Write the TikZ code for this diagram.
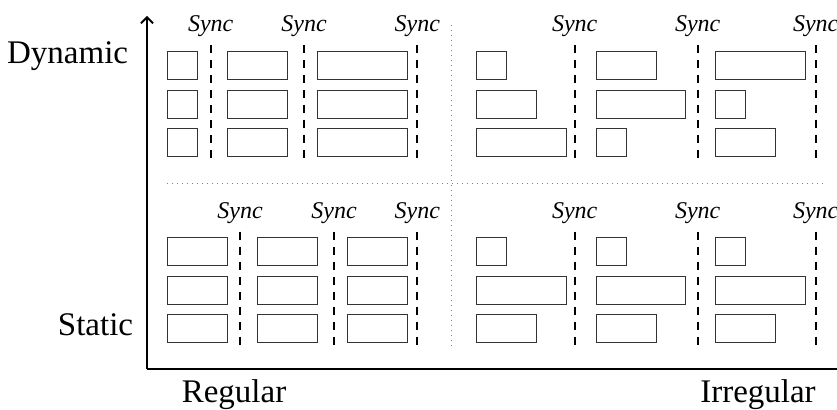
\documentclass[tikz,border=0pt]{standalone}
\usepackage{fontspec}
\setmainfont{Liberation Serif}
\usetikzlibrary{arrows.meta}

\begin{document}
\begin{tikzpicture}[x=0.5pt, y=-0.5pt]
        % ================= styles =================
        \tikzset{
            % task box (width given as argument)
            task/.style={draw=black!80, line width=0.5pt, inner sep=0pt, minimum height=14pt, minimum width=#1, anchor=north west},
            % sync barrier
            barrier/.style={line width=1.1pt, dash pattern=on 4pt off 3.5pt},
            synclabel/.style={font=\fontsize{12}{14}\selectfont\itshape, anchor=base, inner sep=0pt},
            axislabel/.style={font=\fontsize{16.5}{19}\selectfont, inner sep=0pt},
            quadline/.style={gray, line width=0.5pt, dash pattern=on 0.5pt off 2pt},
            axisline/.style={line width=0.9pt}
        }
        \useasboundingbox (0,0) rectangle (837,410);

        % ================= axes =================
        \coordinate (origin) at (147,369);
        \coordinate (ytop) at (147,16);
        \coordinate (xend) at (837,369);
        \draw[axisline, -{Straight Barb[length=3pt, width=6pt]}] (origin) -- (ytop);
        \draw[axisline] (origin) -- (xend);

        \node[axislabel, anchor=base east] (dyn) at (128.5,63.3) {Dynamic};
        \node[axislabel, anchor=base east] (stat) at (133.5,336) {Static};
        \node[axislabel, anchor=base] (reg) at (234,403) {Regular};
        \node[axislabel, anchor=base] (irreg) at (758,403) {Irregular};

        % quadrant separators
        \coordinate (hl) at (167,183.3);
        \coordinate (hr) at (823,183.3);
        \coordinate (vt) at (451.7,25);
        \coordinate (vb) at (451.7,347);
        \draw[quadline] (hl) -- (hr);
        \draw[quadline] (vt) -- (vb);

        % ================= top left: dynamic / regular =================
        \foreach \r/\y in {1/51, 2/89.7, 3/128.3} {
            \node[task=15pt] (tla\r) at (167.3,\y) {};
            \node[task=30pt] (tlb\r) at (227.3,\y) {};
            \node[task=44.6pt] (tlc\r) at (317.3,\y) {};
        }
        \foreach \i/\x in {1/210.7, 2/304, 3/417.3} {
            \node[synclabel] (tlsync\i) at (\x,31.7) {Sync};
            \coordinate (tltop\i) at (\x,45);
            \coordinate (tlbot\i) at (\x,163);
            \draw[barrier] (tltop\i) -- (tlbot\i);
        }

        % ================= top right: dynamic / irregular =================
        \foreach \r/\y/\wa/\wb/\wc in {1/51/15pt/30pt/44.6pt, 2/89.7/30pt/44.6pt/15pt, 3/128.3/44.6pt/15pt/30pt} {
            \node[task=\wa] (tra\r) at (476.3,\y) {};
            \node[task=\wb] (trb\r) at (595.7,\y) {};
            \node[task=\wc] (trc\r) at (715.3,\y) {};
        }
        \foreach \i/\x in {1/574.7, 2/697.7, 3/815.7} {
            \node[synclabel] (trsync\i) at (\x,31.7) {Sync};
            \coordinate (trtop\i) at (\x,45);
            \coordinate (trbot\i) at (\x,163);
            \draw[barrier] (trtop\i) -- (trbot\i);
        }

        % ================= bottom left: static / regular =================
        \foreach \r/\y in {1/236.7, 2/275.7, 3/314.3} {
            \node[task=30pt] (bla\r) at (167.3,\y) {};
            \node[task=30pt] (blb\r) at (257.3,\y) {};
            \node[task=30pt] (blc\r) at (347.3,\y) {};
        }
        \foreach \i/\x in {1/240, 2/334, 3/417.3} {
            \node[synclabel] (blsync\i) at (\x,218.3) {Sync};
            \coordinate (bltop\i) at (\x,231.7);
            \coordinate (blbot\i) at (\x,350);
            \draw[barrier] (bltop\i) -- (blbot\i);
        }

        % ================= bottom right: static / irregular =================
        \foreach \r/\y/\w in {1/236.7/15pt, 2/275.7/44.6pt, 3/314.3/30pt} {
            \node[task=\w] (bra\r) at (476.3,\y) {};
            \node[task=\w] (brb\r) at (595.7,\y) {};
            \node[task=\w] (brc\r) at (715.3,\y) {};
        }
        \foreach \i/\x in {1/574.7, 2/697.7, 3/815.7} {
            \node[synclabel] (brsync\i) at (\x,218.3) {Sync};
            \coordinate (brtop\i) at (\x,231.7);
            \coordinate (brbot\i) at (\x,350);
            \draw[barrier] (brtop\i) -- (brbot\i);
        }

    \end{tikzpicture}
\end{document}
